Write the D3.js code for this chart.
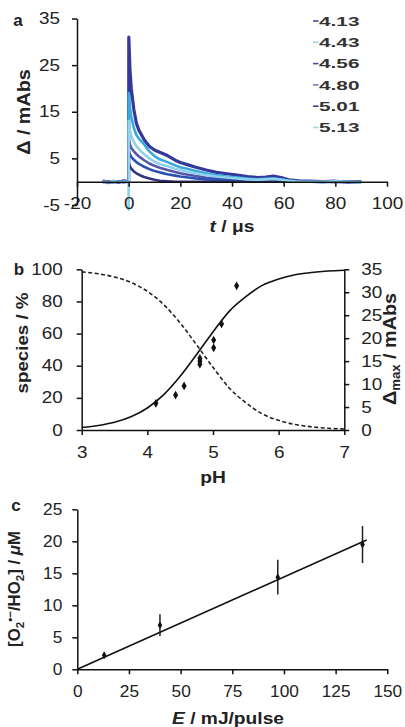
<!DOCTYPE html>
<meta charset="utf-8">
<style>
body { margin: 0; background: #fff; }
svg { display: block; }
.trace { fill: none; stroke-linejoin: round; }
</style>
<body>
<script src="https://d3js.org/d3.v7.min.js"></script>
<script>
var FONT = "'Liberation Sans', Arial, sans-serif";

// ---- panel a: transient absorbance traces ----
var traceTimes = [-10, -8, -6, -4, -2, -0.05, 0, 0.05, 0.5, 1, 2, 3, 4, 5, 6, 8, 10, 12, 15, 18, 20,
  23, 26, 30, 34, 38, 42, 46, 50, 53, 56, 59, 62, 66, 70, 75, 80, 85, 90];
var trace413 = [0.2, -0.2, 0.1, -0.1, 0.2, 0, 0, 31, 24, 20, 15.5, 12.5, 11, 10, 9, 7.6, 6.8, 6.3, 5.6, 4.6, 4.1,
  3.6, 3.1, 2.5, 2.0, 1.7, 1.4, 1.1, 0.9, 1.0, 1.2, 0.9, 0.4, 0.2, 0.1, 0.0, 0.1, -0.1, 0.0];
var trace443 = [0, 0.1, -0.1, 0.1, 0, 0, 0, 19, 16, 14, 11.5, 10, 9.2, 8.6, 8, 6.5, 5.5, 4.8, 4.2, 3.5, 3.1,
  2.7, 2.3, 1.8, 1.4, 1.1, 0.9, 0.7, 0.5, 0.6, 0.7, 0.5, 0.2, 0.1, 0, -0.1, 0.1, 0, -0.2];
var trace456 = [0.1, 0, -0.1, 0.1, 0, 0, 0, 9, 8, 7.3, 6.5, 5.9, 5.4, 5, 4.6, 3.9, 3.4, 3, 2.5, 2.1, 1.8,
  1.5, 1.2, 0.9, 0.7, 0.5, 0.4, 0.3, 0.2, 0.3, 0.4, 0.3, 0.1, 0, 0, 0, -0.1, 0, 0];
var trace480 = [0, 0.1, 0, -0.1, 0.1, 0, 0, 6.5, 5.8, 5.3, 4.7, 4.2, 3.8, 3.5, 3.2, 2.7, 2.3, 2, 1.6, 1.3, 1.1,
  0.9, 0.7, 0.5, 0.4, 0.3, 0.2, 0.2, 0.1, 0.2, 0.3, 0.2, 0, 0, 0, 0, 0, 0, 0];
var trace501 = [-0.1, 0, 0.1, 0, -0.1, 0, 0, 4, 3.3, 2.8, 2.2, 1.8, 1.5, 1.2, 1, 0.7, 0.4, 0.2, 0.1, 0, 0,
  0, 0, 0, 0, 0, 0, 0, 0, 0, 0.1, 0, 0, 0, 0, 0, 0, 0, 0];
var trace513 = [0, -0.1, 0.1, 0, 0, 0, -6, 13, 11, 9.8, 8.5, 7.6, 7, 6.4, 5.9, 5, 4.3, 3.8, 3.3, 2.8, 2.5,
  2.1, 1.8, 1.4, 1.1, 0.9, 0.7, 0.5, 0.4, 0.5, 0.6, 0.4, 0.2, 0, 0, 0, 0.1, 0, -0.1];
var legendLabels = ["4.13", "4.43", "4.56", "4.80", "5.01", "5.13"];
var legendColors = ["#4a4a98", "#9ad6ea", "#4a4a98", "#7a7ab8", "#3c3c80", "#9ad6ea"];
var traceColors = ["#34389a", "#3aa8dc", "#5656a8", "#2a52b2", "#333380", "#8fd2ec"];
var aTicksX = [-20, 0, 20, 40, 60, 80, 100];
var aTicksY = [-5, 5, 15, 25, 35];

// ---- panel b: speciation vs pH ----
var phGrid = [3, 3.25, 3.5, 3.75, 4, 4.25, 4.5, 4.75, 5, 5.25, 5.5, 5.75, 6, 6.25, 6.5, 6.75, 7];
var superoxidePct = [1.6, 2.8, 4.8, 8.2, 13.7, 22, 33.4, 47, 61, 74, 83, 90, 94, 96.6, 98, 98.9, 99.4];
var perhydroxylPct = [98.4, 97.2, 95.2, 91.8, 86.3, 78, 66.6, 53, 39, 26, 17, 10, 6, 3.4, 2, 1.1, 0.6];
var phPoints = [4.13, 4.43, 4.56, 4.80, 4.80, 4.80, 5.01, 5.01, 5.13, 5.36];
var dmaxPoints = [5.8, 7.6, 9.6, 15.6, 15.0, 14.3, 19.6, 17.9, 23.1, 31.4];
var bTicksX = [3, 4, 5, 6, 7];
var bTicksY = [0, 20, 40, 60, 80, 100];
var bTicksY2 = [0, 5, 10, 15, 20, 25, 30, 35];

// ---- panel c: yield vs pulse energy ----
var energy = [13, 40, 97, 138];
var conc = [2.2, 6.9, 14.4, 19.5];
var concErr = [0.4, 1.7, 2.7, 2.9];
var fitE = [0, 140];
var fitC = [0, 20.2];
var cTicksX = [0, 25, 50, 75, 100, 125, 150];
var cTicksY = [0, 5, 10, 15, 20, 25];

var svg = d3.select("body").append("svg")
    .attr("width", 405)
    .attr("height", 727)
    .attr("font-family", FONT);

var plain = function(d) { return String(d); }; // hyphen minus, no decimals

// widen glyphs horizontally around their x anchor (the original is stretched)
function stretch(sel, sx) {
  sel.each(function() {
    var t = d3.select(this), x = +t.attr("x") || 0;
    t.attr("transform", "translate(" + x + ",0) scale(" + sx + ",1) translate(" + (-x) + ",0)");
  });
}

function styleAxis(g, sx) {
  g.attr("font-size", 16).attr("font-family", FONT);
  g.select(".domain").attr("stroke", "#111").attr("stroke-width", 1.5);
  g.selectAll(".tick line").attr("stroke", "#111").attr("stroke-width", 1.5);
  g.selectAll(".tick text").attr("fill", "#222");
  stretch(g.selectAll(".tick text"), sx);
}

function label(x, y, rot, size, parts, sx) {
  var t = svg.append("text")
      .attr("transform", "translate(" + x + "," + y + ") rotate(" + rot + ") scale(" + (sx || 1) + ",1)")
      .attr("text-anchor", "middle")
      .attr("font-weight", "bold")
      .attr("font-size", size)
      .attr("fill", "#222");
  parts.forEach(function(p) {
    var s = t.append("tspan").text(p.s);
    if (p.dy) s.attr("dy", p.dy);
    if (p.size) s.attr("font-size", p.size);
    if (p.it) s.attr("font-style", "italic");
  });
  return t;
}

// ================= panel a =================
var xA = d3.scaleLinear().domain([-20, 100]).range([77, 387]);
var yA = d3.scaleLinear().domain([-5, 35]).range([205, 18.5]);

var gA = svg.append("g");
var seriesA = [trace413, trace443, trace456, trace480, trace501, trace513];
var lineA = d3.line()
    .x(function(d, i) { return xA(traceTimes[i]); })
    .y(function(d) { return yA(d); });

gA.selectAll(".trace")
    .data(seriesA)
  .enter().append("path")
    .attr("class", "trace")
    .attr("stroke", function(d, i) { return traceColors[i]; })
    .attr("stroke-width", function(d, i) { return i == 0 ? 3.2 : 2.6; })
    .attr("d", lineA);

var axYA = gA.append("g")
    .attr("transform", "translate(77,0)")
    .call(d3.axisLeft(yA).tickValues(aTicksY).tickFormat(plain).tickSize(5).tickPadding(12).tickSizeOuter(0));
styleAxis(axYA, 1.18);

var axXA = gA.append("g")
    .attr("transform", "translate(0," + yA(0) + ")")
    .call(d3.axisBottom(xA).tickValues(aTicksX).tickFormat(plain).tickSize(5).tickPadding(11).tickSizeOuter(0));
styleAxis(axXA, 1.18);

var leg = gA.selectAll(".leg")
    .data(legendLabels)
  .enter().append("g")
    .attr("transform", function(d, i) { return "translate(313," + (21 + i * 21.3) + ")"; });
leg.append("line")
    .attr("x1", 0).attr("x2", 5.5)
    .attr("stroke", function(d, i) { return legendColors[i]; })
    .attr("stroke-width", 1.6);
leg.append("text")
    .attr("x", 6).attr("y", 4.6)
    .attr("font-size", 13)
    .attr("font-weight", "bold")
    .attr("fill", "#333")
    .text(function(d) { return d; })
    .call(stretch, 1.6);

label(18, 26, 0, 17, [{s: "a"}]);
label(30, 112, -90, 18, [{s: "Δ / mAbs"}], 1.1);
label(232, 232, 0, 16, [{s: "t", it: true}, {s: " / μs"}], 1.2);

// ================= panel b =================
var xB = d3.scaleLinear().domain([3, 7]).range([81.7, 344.3]);
var yB = d3.scaleLinear().domain([0, 100]).range([430, 269.3]);
var yB2 = d3.scaleLinear().domain([0, 35]).range([430, 269.3]);
var gB = svg.append("g");

var axXB = gB.append("g")
    .attr("transform", "translate(0,430)")
    .call(d3.axisBottom(xB).tickValues(bTicksX).tickFormat(plain).tickSize(5).tickPadding(12).tickSizeOuter(0));
styleAxis(axXB, 1.18);
var axYB = gB.append("g")
    .attr("transform", "translate(81.7,0)")
    .call(d3.axisLeft(yB).tickValues(bTicksY).tickFormat(plain).tickSize(5).tickPadding(14).tickSizeOuter(0));
styleAxis(axYB, 1.18);
var axYB2 = gB.append("g")
    .attr("transform", "translate(344.3,0)")
    .call(d3.axisRight(yB2).tickValues(bTicksY2).tickFormat(plain).tickSize(5).tickPadding(12).tickSizeOuter(0));
styleAxis(axYB2, 1.18);

var lineB = d3.line().curve(d3.curveMonotoneX)
    .x(function(d, i) { return xB(phGrid[i]); })
    .y(function(d) { return yB(d); });
gB.append("path").attr("class", "trace")
    .attr("stroke", "#111").attr("stroke-width", 1.6)
    .attr("d", lineB(superoxidePct));
gB.append("path").attr("class", "trace")
    .attr("stroke", "#222").attr("stroke-width", 1.6)
    .attr("stroke-dasharray", "4,2.5")
    .attr("d", lineB(perhydroxylPct));

gB.selectAll(".pt")
    .data(dmaxPoints)
  .enter().append("path")
    .attr("transform", function(d, i) { return "translate(" + xB(phPoints[i]) + "," + yB2(d) + ")"; })
    .attr("d", d3.symbol().type(d3.symbolDiamond).size(22))
    .attr("fill", "#111");

label(19, 275, 0, 17, [{s: "b"}]);
label(28, 343, -90, 17, [{s: "species / %"}], 1.1);
label(396, 349, -90, 18, [{s: "Δ"}, {s: "max", dy: 4, size: 12}, {s: " / mAbs", dy: -4}], 1.1);
label(213, 483, 0, 16, [{s: "pH"}], 1.2);

// ================= panel c =================
var xC = d3.scaleLinear().domain([0, 150]).range([77.3, 387.3]);
var yC = d3.scaleLinear().domain([0, 25]).range([669.3, 509.3]);
var gC = svg.append("g");

var axXC = gC.append("g")
    .attr("transform", "translate(0,669.3)")
    .call(d3.axisBottom(xC).tickValues(cTicksX).tickFormat(plain).tickSize(5).tickPadding(11).tickSizeOuter(0));
styleAxis(axXC, 1.08);
var axYC = gC.append("g")
    .attr("transform", "translate(77.3,0)")
    .call(d3.axisLeft(yC).tickValues(cTicksY).tickFormat(plain).tickSize(5).tickPadding(10).tickSizeOuter(0));
styleAxis(axYC, 1.08);

gC.append("line")
    .attr("x1", xC(fitE[0])).attr("y1", yC(fitC[0]))
    .attr("x2", xC(fitE[1])).attr("y2", yC(fitC[1]))
    .attr("stroke", "#111").attr("stroke-width", 1.6);

gC.selectAll(".err")
    .data(conc)
  .enter().append("line")
    .attr("x1", function(d, i) { return xC(energy[i]); })
    .attr("x2", function(d, i) { return xC(energy[i]); })
    .attr("y1", function(d, i) { return yC(d - concErr[i]); })
    .attr("y2", function(d, i) { return yC(d + concErr[i]); })
    .attr("stroke", "#222").attr("stroke-width", 1.5);

gC.selectAll(".pt")
    .data(conc)
  .enter().append("path")
    .attr("transform", function(d, i) { return "translate(" + xC(energy[i]) + "," + yC(d) + ")"; })
    .attr("d", d3.symbol().type(d3.symbolDiamond).size(18))
    .attr("fill", "#111");

label(16, 511, 0, 17, [{s: "c"}]);
label(20, 589, -90, 16, [
  {s: "[O"}, {s: "2", dy: 4, size: 11}, {s: "•−", dy: -10, size: 11},
  {s: "/HO", dy: 6}, {s: "2", dy: 4, size: 11}, {s: "] / ", dy: -4},
  {s: "μ", it: true}, {s: "M"}], 1.05);
label(228, 724, 0, 16, [{s: "E", it: true}, {s: " / mJ/pulse"}], 1.2);
</script>
</body>
